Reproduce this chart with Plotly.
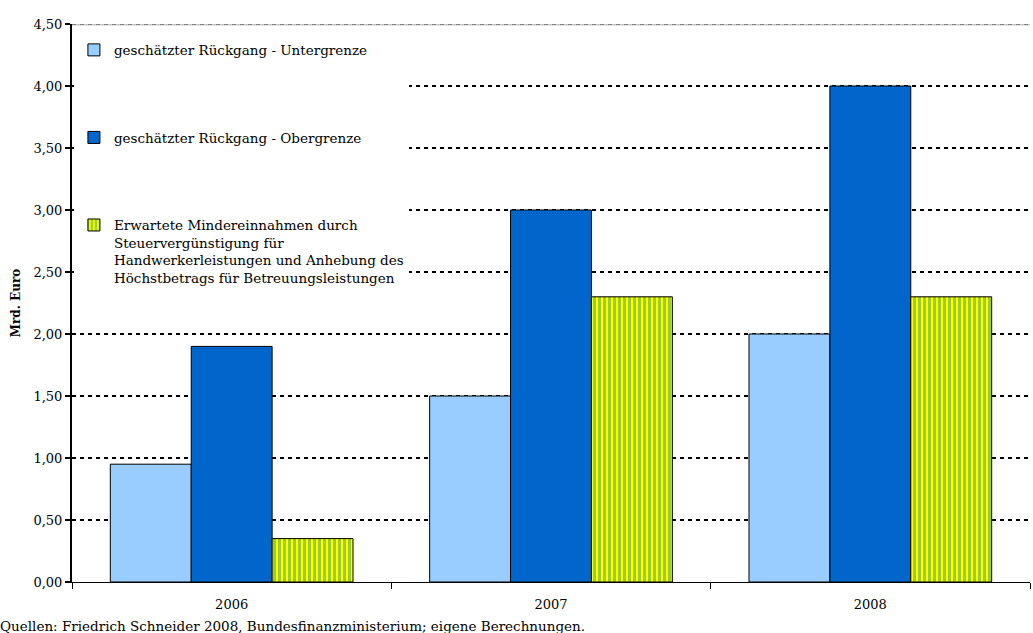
import plotly.graph_objects as go

years = ['2006', '2007', '2008']
untergrenze = [0.95, 1.5, 2.0]
obergrenze = [1.9, 3.0, 4.0]
mindereinnahmen = [0.35, 2.3, 2.3]

names = ['geschätzter Rückgang - Untergrenze',
         'geschätzter Rückgang - Obergrenze',
         'Erwartete Mindereinnahmen durch<br>Steuervergünstigung für<br>'
         'Handwerkerleistungen und Anhebung des<br>Höchstbetrags für Betreuungsleistungen']
source = 'Quellen: Friedrich Schneider 2008, Bundesfinanzministerium; eigene Berechnungen.'

FONT = 'DejaVu Serif'

fig = go.Figure()
fig.add_trace(go.Bar(x=years, y=untergrenze, name=names[0], legendgroup='a',
                     marker=dict(color='#99CCFF', line=dict(color='black', width=1))))
fig.add_trace(go.Bar(x=years, y=obergrenze, name=names[1], legendgroup='b',
                     marker=dict(color='#0066CC', line=dict(color='black', width=1))))
fig.add_trace(go.Bar(x=years, y=mindereinnahmen, name=names[2], legendgroup='c',
                     marker=dict(color='#FFFF00', line=dict(color='black', width=1),
                                 pattern=dict(shape='|', fgcolor='#3C9A5A', bgcolor='#FFFF00',
                                              size=5, solidity=0.6, fillmode='overlay'))))

fig.update_layout(
    width=1033, height=633,
    margin=dict(l=72, r=3, t=24, b=51),
    plot_bgcolor='white', paper_bgcolor='white',
    font=dict(family=FONT, size=13, color='black'),
    separators=',.',
    barmode='group', bargap=0.24, bargroupgap=0,
    legend=dict(x=0.002, y=0.981, xanchor='left', yanchor='top', bgcolor='white',
                tracegroupgap=67, valign='top', font=dict(size=13.5)),
    xaxis=dict(type='category', showline=True, linecolor='black', linewidth=1,
               ticks='outside', tickson='boundaries', ticklen=6, tickcolor='black',
               showgrid=False, automargin=False, ticklabelstandoff=10),
    yaxis=dict(range=[0, 4.5], dtick=0.5, tickformat='.2f', showline=True,
               linecolor='black', linewidth=2, ticks='outside', ticklen=5,
               tickcolor='black', tickwidth=2, automargin=False,
               showgrid=True, gridcolor='black', gridwidth=2, griddash='4px,4px',
               zeroline=False,
               title=dict(text='<b>Mrd. Euro</b>', standoff=10, font=dict(size=12))),
)

fig.add_shape(type='line', xref='paper', yref='y', x0=0, x1=1, y0=4.5, y1=4.5,
              line=dict(color='#C8C8C8', width=3), layer='above')
fig.add_shape(type='line', xref='paper', yref='y', x0=0, x1=1, y0=4.5, y1=4.5,
              line=dict(color='#808080', width=2, dash='4px,4px'), layer='above')

fig.add_annotation(text=source, xref='paper', yref='paper', x=-0.077, y=-0.078,
                   xanchor='left', yanchor='middle', showarrow=False,
                   font=dict(size=13.5))

fig.write_html('out.html', config={'displayModeBar': False},
               post_script="document.body.style.margin='0';")
